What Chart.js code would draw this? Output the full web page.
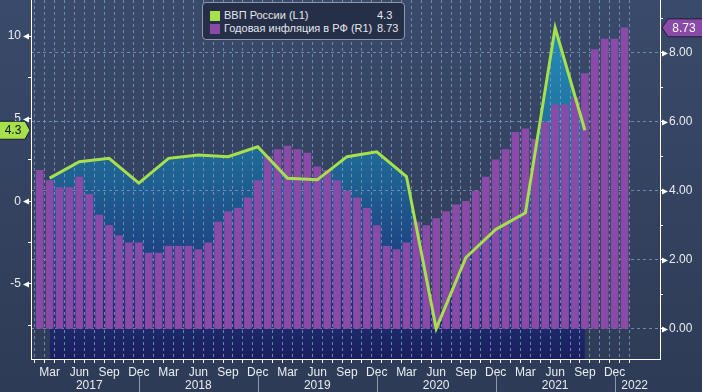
<!DOCTYPE html>
<html>
<head>
<meta charset="utf-8">
<script src="https://cdn.jsdelivr.net/npm/chart.js@4.4.0/dist/chart.umd.min.js"></script>
<style>
  html, body { margin: 0; padding: 0; }
  body {
    width: 702px; height: 392px; overflow: hidden;
    background: linear-gradient(#3a4a6a, #2e3b56);
    font-family: "Liberation Sans", Arial, sans-serif;
  }
  #wrap { position: relative; width: 702px; height: 392px; }
  #legend {
    position: absolute; left: 202px; top: 2px; width: 203px; height: 38px;
    box-sizing: border-box; border: 1px solid #8e98ad; border-radius: 4px;
    background: #262f48; color: #e4e8ef; font-size: 11px;
  }
  .row { position: absolute; left: 7px; height: 13px; line-height: 13px; white-space: nowrap; }
  .row .sw { position: absolute; left: 0; top: 2px; width: 10px; height: 10px; }
  .row .name { position: absolute; left: 14px; }
  .row .val { position: absolute; left: 167px; }
</style>
</head>
<body>
<div id="wrap">
  <canvas id="chart" width="702" height="392"></canvas>
  <div id="legend"></div>
</div>
<script>
// month index 0 = Jan 2017
const monthNames = ["Jan", "Feb", "Mar", "Apr", "May", "Jun", "Jul", "Aug", "Sep", "Oct", "Nov", "Dec"];
const years = ["2017", "2018", "2019", "2020", "2021", "2022"];
const seriesNames = ["ВВП России (L1)", "Годовая инфляция в РФ (R1)"];

// annual CPI inflation, monthly Feb 2017 .. Jan 2022
const inflationStart = 1;
const inflation = [
  4.6, 4.3, 4.1, 4.1, 4.4, 3.9, 3.3, 3.0, 2.7, 2.5, 2.5,
  2.2, 2.2, 2.4, 2.4, 2.4, 2.3, 2.5, 3.1, 3.4, 3.5, 3.8, 4.3,
  5.0, 5.2, 5.3, 5.2, 5.1, 4.7, 4.6, 4.3, 4.0, 3.8, 3.5, 3.0,
  2.4, 2.3, 2.5, 3.1, 3.0, 3.2, 3.4, 3.6, 3.7, 4.0, 4.4, 4.9,
  5.2, 5.7, 5.8, 5.5, 6.0, 6.5, 6.5, 6.7, 7.4, 8.1, 8.4, 8.4,
  8.73
];

// GDP y/y, quarterly Q1 2017 .. Q3 2021 (plotted at quarter-end month)
const gdpStart = 2;
const gdp = [
  1.4, 2.4, 2.6, 1.1,
  2.6, 2.8, 2.7, 3.3,
  1.4, 1.3, 2.7, 3.0,
  1.5, -7.7, -3.4, -1.7,
  -0.7, 10.5, 4.3
];

// axis ticks (majors get labels)
const leftTicks = [-7.5, -5, -2.5, 0, 2.5, 5, 7.5, 10];
const leftMajor = [-5, 0, 5, 10];
const rightTicks = [0, 1, 2, 3, 4, 5, 6, 7, 8, 9];
const rightMajor = [0, 2, 4, 6, 8];

const X_MIN = 0.65, X_MAX = 63.05;
const GREEN = "#a6e04c";
const PURPLE = "#8a4ba8";
const GRID = "rgba(125, 155, 195, 0.8)";
const TEXT = "#e9edf3";

const lastGdp = gdp[gdp.length - 1];
const lastInfl = inflation[inflation.length - 1];

// legend
const legend = document.getElementById("legend");
[[seriesNames[0], GREEN, String(lastGdp)], [seriesNames[1], PURPLE, String(lastInfl)]].forEach(function (r, i) {
  const row = document.createElement("div");
  row.className = "row";
  row.style.top = (6 + i * 13) + "px";
  row.innerHTML = '<span class="sw" style="background:' + r[1] + '"></span><span class="name">' + r[0] +
    '</span><span class="val">' + r[2] + "</span>";
  legend.appendChild(row);
});

function fillGradient(context) {
  const chart = context.chart;
  const area = chart.chartArea;
  if (!area) return "#1f6a96";
  const g = chart.ctx.createLinearGradient(0, area.top, 0, area.bottom);
  g.addColorStop(0, "#2494bf");
  g.addColorStop(0.42, "#1f6b97");
  g.addColorStop(0.75, "#1e3e80");
  g.addColorStop(1, "#1b1f5d");
  return g;
}

function noPad(s) {
  s.paddingTop = 0;
  s.paddingBottom = 0;
  s.paddingLeft = 0;
  s.paddingRight = 0;
}

const decorations = {
  id: "decorations",
  afterDraw(chart) {
    const { ctx, chartArea, scales } = chart;
    const x = scales.x, yl = scales.y, yr = scales.y1;
    ctx.save();

    // tick flags
    ctx.fillStyle = "#ffffff";
    leftMajor.forEach(function (v) {
      const py = Math.round(yl.getPixelForValue(v)) + 0.5;
      ctx.beginPath();
      ctx.moveTo(chartArea.left - 8, py);
      ctx.lineTo(chartArea.left - 2, py - 3);
      ctx.lineTo(chartArea.left - 2, py + 3);
      ctx.closePath();
      ctx.fill();
    });
    rightMajor.forEach(function (v) {
      const py = Math.round(yr.getPixelForValue(v)) + 0.5;
      ctx.beginPath();
      ctx.moveTo(chartArea.right + 8, py);
      ctx.lineTo(chartArea.right + 2, py - 3);
      ctx.lineTo(chartArea.right + 2, py + 3);
      ctx.closePath();
      ctx.fill();
    });

    // years and separators
    ctx.font = "12px 'Liberation Sans', Arial, sans-serif";
    ctx.textAlign = "center";
    ctx.textBaseline = "middle";
    let from = inflationStart;
    years.forEach(function (yr, i) {
      const dec = i * 12 + 11;
      const to = dec <= X_MAX ? dec : X_MAX;
      if (dec <= X_MAX) {
        const px = Math.round(x.getPixelForValue(dec)) + 0.5;
        ctx.strokeStyle = "#8d97ab";
        ctx.lineWidth = 1;
        ctx.beginPath();
        ctx.moveTo(px, chartArea.bottom + 16);
        ctx.lineTo(px, chartArea.bottom + 33);
        ctx.stroke();
      }
      ctx.fillStyle = TEXT;
      ctx.fillText(yr, x.getPixelForValue((from + to) / 2), chartArea.bottom + 27);
      from = dec;
    });

    // last value tags
    const gy = yl.getPixelForValue(lastGdp);
    ctx.fillStyle = GREEN;
    ctx.strokeStyle = "#1a2030";
    ctx.beginPath();
    ctx.moveTo(-1, gy - 9);
    ctx.lineTo(25, gy - 9);
    ctx.lineTo(30, gy);
    ctx.lineTo(25, gy + 9);
    ctx.lineTo(-1, gy + 9);
    ctx.closePath();
    ctx.fill();
    ctx.stroke();
    ctx.fillStyle = "#111111";
    ctx.fillText(String(lastGdp), 13, gy + 0.5);

    const iy = yr.getPixelForValue(lastInfl);
    ctx.fillStyle = PURPLE;
    ctx.beginPath();
    ctx.moveTo(703, iy - 9);
    ctx.lineTo(668, iy - 9);
    ctx.lineTo(662, iy);
    ctx.lineTo(668, iy + 9);
    ctx.lineTo(703, iy + 9);
    ctx.closePath();
    ctx.fill();
    ctx.stroke();
    ctx.fillStyle = "#ffffff";
    ctx.fillText(lastInfl.toFixed(2), 684, iy + 0.5);

    ctx.restore();
  }
};

document.addEventListener("DOMContentLoaded", function () {
  Chart.defaults.font.family = "'Liberation Sans', Arial, sans-serif";
  Chart.defaults.font.size = 12;
  Chart.defaults.color = TEXT;

  const ctx = document.getElementById("chart").getContext("2d");
  new Chart(ctx, {
    type: "bar",
    data: {
      datasets: [
        {
          type: "line",
          label: seriesNames[0],
          data: gdp.map(function (v, i) { return { x: gdpStart + i * 3, y: v }; }),
          yAxisID: "y",
          borderColor: GREEN,
          borderWidth: 3,
          pointRadius: 0,
          tension: 0,
          fill: "start",
          backgroundColor: fillGradient,
          order: 0,
        },
        {
          type: "bar",
          label: seriesNames[1],
          data: inflation.map(function (v, i) { return { x: inflationStart + i, y: v }; }),
          yAxisID: "y1",
          backgroundColor: PURPLE,
          borderWidth: 0,
          barThickness: 7,
          order: 1,
        },
      ],
    },
    options: {
      responsive: false,
      animation: false,
      layout: { padding: 0 },
      plugins: {
        legend: { display: false },
        tooltip: { enabled: false },
        filler: { drawTime: "beforeDraw" },
      },
      scales: {
        x: {
          type: "linear",
          min: X_MIN,
          max: X_MAX,
          bounds: "data",
          afterFit: function (s) { s.height = 33; noPad(s); },
          afterBuildTicks: function (s) {
            s.ticks = inflation.map(function (v, i) { return { value: inflationStart + i }; });
          },
          ticks: {
            autoSkip: false,
            maxRotation: 0,
            padding: 2,
            color: TEXT,
            callback: function (v) {
              const m = v % 12;
              return (m === 2 || m === 5 || m === 8 || m === 11) ? monthNames[m] : "";
            },
          },
          grid: {
            color: GRID,
            tickColor: "#ffffff",
            tickLength: 4,
          },
          border: { color: "#ffffff", width: 1, dash: [3, 3] },
        },
        y: {
          position: "left",
          min: -9.54,
          max: 12.18,
          bounds: "data",
          afterFit: function (s) { s.width = 31; noPad(s); },
          afterBuildTicks: function (s) {
            s.ticks = leftTicks.map(function (v) { return { value: v }; });
          },
          ticks: {
            autoSkip: false,
            padding: 7,
            color: TEXT,
            callback: function (v) { return leftMajor.indexOf(v) >= 0 ? String(v) : ""; },
          },
          grid: {
            drawOnChartArea: false,
            tickColor: "#ffffff",
            tickLength: 3,
          },
          border: { color: "#ffffff", width: 1 },
        },
        y1: {
          position: "right",
          min: -0.87,
          max: 9.536,
          bounds: "data",
          afterFit: function (s) { s.width = 42; noPad(s); },
          afterBuildTicks: function (s) {
            s.ticks = rightTicks.map(function (v) { return { value: v }; });
          },
          ticks: {
            autoSkip: false,
            padding: 6,
            color: TEXT,
            callback: function (v) { return rightMajor.indexOf(v) >= 0 ? v.toFixed(2) : ""; },
          },
          grid: {
            color: function (c) { return c.tick && rightMajor.indexOf(c.tick.value) >= 0 ? GRID : "rgba(0,0,0,0)"; },
            tickColor: "#ffffff",
            tickLength: 3,
          },
          border: { color: "#ffffff", width: 1, dash: [3, 3] },
        },
      },
    },
    plugins: [decorations],
  });
});
</script>
</body>
</html>
